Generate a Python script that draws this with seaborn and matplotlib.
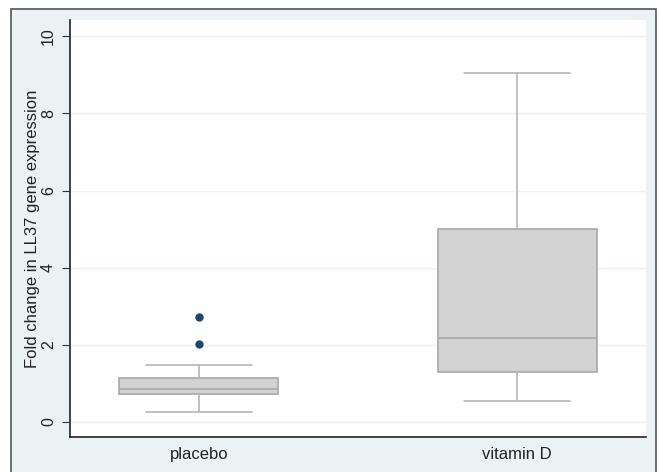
import numpy as np
import pandas as pd
import matplotlib
matplotlib.use("Agg")
import matplotlib.pyplot as plt
from matplotlib.patches import Rectangle
import seaborn as sns

# Data (five-number summaries and outliers)
groups = ["placebo", "vitamin D"]
whisker_low = [0.25, 0.54]
q1 = [0.72, 1.29]
median = [0.85, 2.18]
q3 = [1.15, 5.01]
whisker_high = [1.47, 9.04]
outlier_group = ["placebo", "placebo"]
outlier_values = [2.03, 2.73]
y_ticks = [0, 2, 4, 6, 8, 10]
y_label = "Fold change in LL37 gene expression"

rows = []
for g, a, b, c, d, e in zip(groups, whisker_low, q1, median, q3, whisker_high):
    for v in (a, b, c, d, e):
        rows.append({"group": g, "value": v})
df = pd.DataFrame(rows)
df_out = pd.DataFrame({"group": outlier_group, "value": outlier_values})

sns.set_theme(style="white")
plt.rcParams["font.family"] = ["Liberation Sans", "DejaVu Sans"]

W, H = 659, 472
fig = plt.figure(figsize=(W / 100, H / 100), dpi=100)
fig.patch.set_facecolor("white")
bg = "#eaf2f3"
fig.patches.append(Rectangle((11 / W, -0.05), (656 - 11) / W, (472 - 9) / H + 0.05,
                             transform=fig.transFigure, facecolor=bg,
                             edgecolor="#555555", linewidth=1.2, zorder=-10))

ax = fig.add_axes([70 / W, (472 - 437) / H, (646 - 70) / W, (437 - 20) / H])
ax.set_zorder(5)
ax.set_facecolor("white")

box_edge = "#a8a8a8"
sns.boxplot(data=df, x="group", y="value", order=groups, whis=np.inf,
            width=0.5, color="#d3d3d3", linecolor=box_edge, linewidth=1.2,
            saturation=1, ax=ax,
            boxprops=dict(facecolor="#d3d3d3", edgecolor=box_edge),
            whiskerprops=dict(color="#b5b5b5"),
            capprops=dict(color="#b5b5b5"),
            medianprops=dict(color=box_edge),
            zorder=3)
# widen the whisker caps to about two thirds of the box width (Stata style)
cap_vals = set(whisker_low) | set(whisker_high)
for ln in ax.lines:
    xd, yd = np.asarray(ln.get_xdata(), float), np.asarray(ln.get_ydata(), float)
    if len(xd) == 2 and yd[0] == yd[1] and any(np.isclose(yd[0], v) for v in cap_vals):
        c = xd.mean()
        ln.set_xdata([c - 0.167, c + 0.167])

sns.stripplot(data=df_out, x="group", y="value", order=groups, jitter=False,
              color="#1a476f", size=6, ax=ax, zorder=4)

ax.set_xlim(-0.405, 1.405)
ax.set_ylim(-0.39, 10.42)
ax.set_yticks(y_ticks)
ax.set_yticklabels([str(t) for t in y_ticks], rotation=90, va="center",
                   fontsize=11.5, color="#222222")
ax.set_xticks([0, 1])
ax.set_xticklabels(groups, fontsize=12, color="#222222")
ax.tick_params(axis="y", length=6, width=0.8, color="#333333", left=True, pad=4)
ax.tick_params(axis="x", length=0, pad=7)
for t in y_ticks:
    ax.axhline(t, color="#eaf2f3", linewidth=1, zorder=1)
ax.set_xlabel("")
ax.set_ylabel(y_label, fontsize=12, color="#222222", labelpad=0.5)
for s in ["top", "right"]:
    ax.spines[s].set_visible(False)
for s in ["left", "bottom"]:
    ax.spines[s].set_color("#222222")
    ax.spines[s].set_linewidth(1.2)

fig.savefig("out.png", dpi=100, facecolor=fig.get_facecolor())
